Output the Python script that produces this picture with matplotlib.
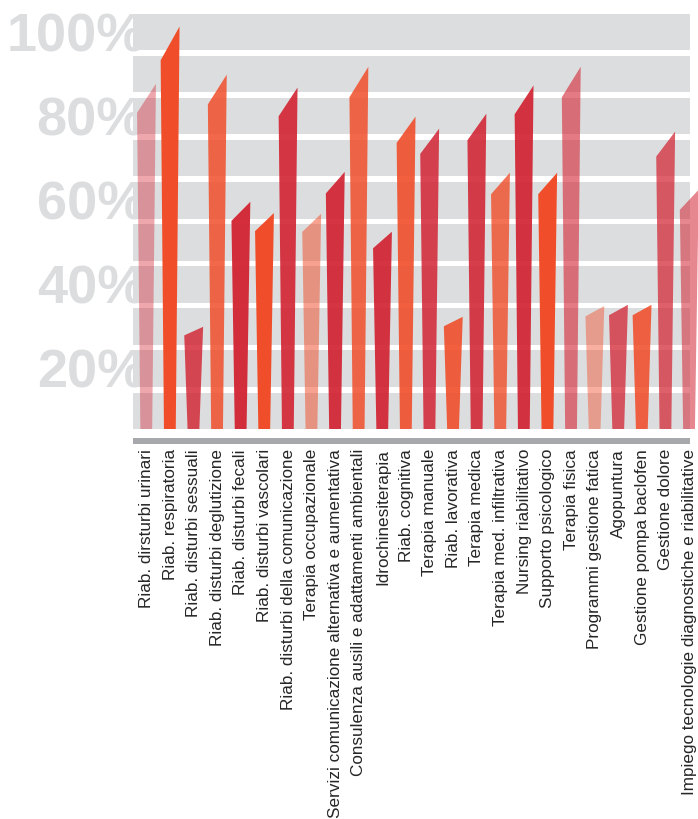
import matplotlib.pyplot as plt

# ---------- DATA ---------- #
categories = [
    "Riab. dirsturbi urinari",
    "Riab. respiratoria",
    "Riab. disturbi sessuali",
    "Riab. disturbi deglutizione",
    "Riab. disturbi fecali",
    "Riab. disturbi vascolari",
    "Riab. disturbi della comunicazione",
    "Terapia occupazionale",
    "Servizi comunicazione alternativa e aumentativa",
    "Consulenza ausili e adattamenti ambientali",
    "Idrochinesiterapia",
    "Riab. cognitiva",
    "Terapia manuale",
    "Riab. lavorativa",
    "Terapia medica",
    "Terapia med. infiltrativa",
    "Nursing riabilitativo",
    "Supporto psicologico",
    "Terapia fisica",
    "Programmi gestione fatica",
    "Agopuntura",
    "Gestione pompa baclofen",
    "Gestione dolore",
    "Impiego tecnologie diagnostiche e riabilitative",
]
values = [83.1, 96.9, 24.6, 85.3, 54.7, 52.0, 82.2, 51.8, 61.9, 87.2, 47.5, 75.2,
          72.3, 27.0, 75.9, 61.7, 82.7, 61.7, 87.2, 29.6, 29.9, 29.9, 71.6, 57.6]

# two hues, each bar with its own opacity
hues = ["crimson", "orange", "crimson", "orange", "crimson", "orange", "crimson", "orange",
        "crimson", "orange", "crimson", "orange", "crimson", "orange", "crimson", "orange",
        "crimson", "orange", "crimson", "orange", "crimson", "orange", "crimson", "crimson"]
alphas = [0.4, 1.0, 0.82, 0.85, 0.95, 1.0, 0.9, 0.52, 0.92, 0.85, 0.92, 0.9,
          0.85, 0.9, 0.88, 0.8, 0.92, 1.0, 0.6, 0.45, 0.75, 0.88, 0.72, 0.55]
tick_labels = ["20%", "40%", "60%", "80%", "100%"]

colors = {"crimson": "#D22332", "orange": "#F04E2A"}
band_color = "#DCDDDE"

# ---------- FIGURE ---------- #
fig = plt.figure(figsize=(6.98, 8.20), dpi=100)
ax = fig.add_axes([133 / 698, 374 / 820, 565 / 698, 431.4 / 820])
ax.set_xlim(-0.572, 23.37)
ax.set_ylim(-3.85, 100)
ax.axis("off")

# gray stripes behind the bars
period = 100 / (9 + 0.867)
for k in range(10):
    ax.axhspan(k * period, k * period + 0.867 * period, xmin=0, xmax=0.986,
               color=band_color, lw=0, zorder=0)

# base line
ax.axhspan(-3.6, -2.2, xmin=0, xmax=0.986, color="#A7A8AB", lw=0, zorder=1)

# big percent labels, same gray as stripes
for j, lab in enumerate(tick_labels):
    ax.text(-0.06, (2 * j + 1) * period, lab, ha="right", va="baseline",
            fontsize=39, fontweight="bold", family="Liberation Sans",
            color=band_color, zorder=0.5, clip_on=False)

# slanted tapered bars
for i, v in enumerate(values):
    xs = [i - 0.26, i + 0.24, i + 0.40, i - 0.40]
    ys = [0, 0, v, v * 0.916]
    ax.fill(xs, ys, color=colors[hues[i]], alpha=alphas[i], lw=0, zorder=2,
            clip_on=False)

# category labels
for i, c in enumerate(categories):
    ax.text(i, -4.6, c, rotation=90, ha="center", va="top", fontsize=12.3,
            family="Liberation Sans", color="#262626", clip_on=False)

plt.savefig("out.png", dpi=100)
